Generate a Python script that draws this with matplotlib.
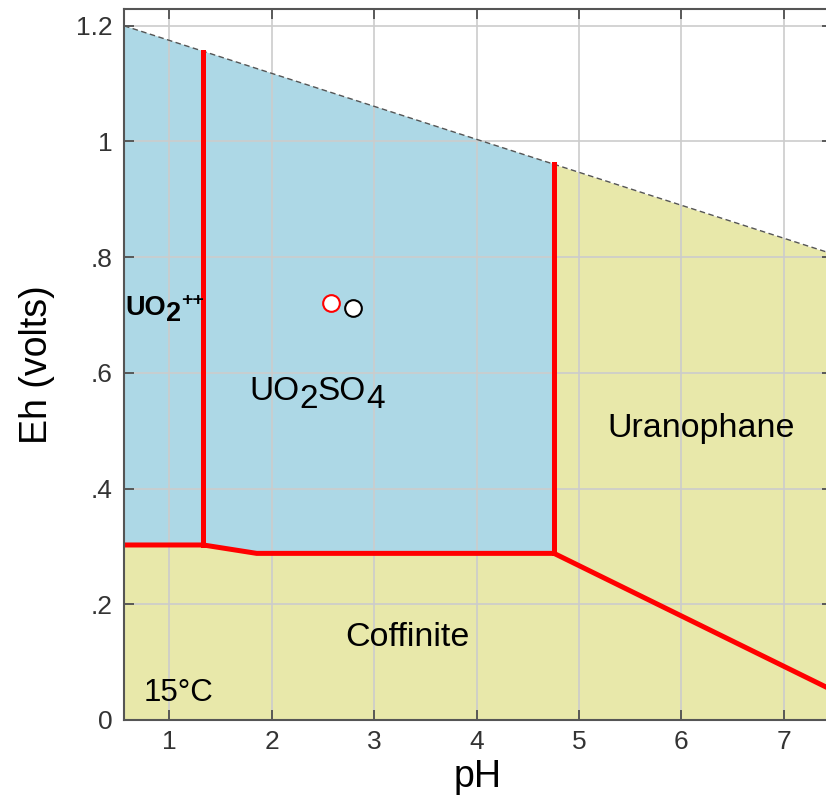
import numpy as np
import matplotlib
matplotlib.use("Agg")
import matplotlib.pyplot as plt
from matplotlib.ticker import FixedLocator, FixedFormatter

plt.rcParams['font.family'] = ['Liberation Sans', 'DejaVu Sans']

# plot window
ph_min, ph_max = 0.557, 7.47
eh_min, eh_max = 0.0, 1.229

# upper stability limit of water (dashed)
water_ph = [0.557, 4.757, 7.47]
water_eh = [1.200, 0.9606, 0.806]

# phase boundaries
b1_ph = [1.332, 1.332]            # UO2++ / UO2SO4
b1_eh = [0.3025, 1.154]
b2_ph = [4.757, 4.757]            # UO2SO4 / Uranophane
b2_eh = [0.288, 0.9606]
cof_ph = [0.557, 1.332, 1.853, 4.757, 7.47]   # top of Coffinite field
cof_eh = [0.3025, 0.3025, 0.288, 0.288, 0.052]

# sample points
samp_ph = [2.579, 2.797]
samp_eh = [0.7213, 0.7128]
samp_edge = ['red', 'black']

xticks = [1, 2, 3, 4, 5, 6, 7]
yticks = [0, 0.2, 0.4, 0.6, 0.8, 1.0, 1.2]
ylabels = ['0', '.2', '.4', '.6', '.8', '1', '1.2']

blue = '#ADD8E6'
khaki = '#E8E8AA'

fig = plt.figure(figsize=(8.26, 7.96), dpi=100)
ax = fig.add_axes([0.1501, 0.0955, 0.857, 0.8932])
ax.set_xlim(ph_min, ph_max)
ax.set_ylim(eh_min, eh_max)

# yellow under the water line, blue for the aqueous fields
xs = np.linspace(ph_min, ph_max, 200)
ax.fill_between(xs, 0, np.interp(xs, water_ph, water_eh), color=khaki, lw=0, zorder=1)
top = np.linspace(b2_ph[0], ph_min, 100)
poly_x = list(cof_ph[:4]) + list(top)
poly_y = list(cof_eh[:4]) + list(np.interp(top, water_ph, water_eh))
ax.fill(poly_x, poly_y, color=blue, lw=0, zorder=1)

ax.grid(True, color='#cccccc', lw=1.2, zorder=2)
ax.set_axisbelow(False)

ax.plot(water_ph, water_eh, ls=(0, (4, 2.5)), color='#555555', lw=1.0, zorder=3)
for px, py in [(b1_ph, b1_eh), (b2_ph, b2_eh), (cof_ph, cof_eh)]:
    ax.plot(px, py, color='red', lw=3.6, zorder=4, solid_joinstyle='miter')

for x, y, ec in zip(samp_ph, samp_eh, samp_edge):
    ax.plot(x, y, 'o', ms=12, mfc='white', mec=ec, mew=1.5, zorder=5)

ax.xaxis.set_major_locator(FixedLocator(xticks))
ax.yaxis.set_major_locator(FixedLocator(yticks))
ax.yaxis.set_major_formatter(FixedFormatter(ylabels))
ax.tick_params(direction='in', length=7, width=1.2, color='#444444',
               labelsize=19, labelcolor='#333333', top=True, right=True)
ax.tick_params(axis='y', pad=8)
ax.tick_params(axis='x', pad=7)
for s in ax.spines.values():
    s.set_color('#555555')
    s.set_linewidth(1.5)
    s.set_zorder(6)

ax.set_xlabel('pH', fontsize=27, labelpad=4)
ax.set_ylabel('Eh (volts)', fontsize=27, labelpad=15)

# field labels
ax.text(6.196, 0.490, 'Uranophane', fontsize=24.5, ha='center', va='baseline', zorder=7)
ax.text(3.325, 0.1285, 'Coffinite', fontsize=24.5, ha='center', va='baseline', zorder=7)
ax.text(0.746, 0.0334, '15°C', fontsize=22.5, ha='left', va='baseline', zorder=7)


def chem(x, y, parts, weight='normal'):
    # lay out a formula piece by piece; subscripts keep full size but drop
    prev = None
    base = 0
    for s, dy, fs in parts:
        if prev is None:
            prev = ax.text(x, y, s, fontsize=fs, fontweight=weight,
                           ha='left', va='baseline', zorder=7)
        else:
            prev = ax.annotate(s, xy=(1, 0), xycoords=prev,
                               xytext=(0, dy - base), textcoords='offset points',
                               fontsize=fs, fontweight=weight,
                               ha='left', va='bottom', zorder=7)
        base = dy


chem(1.780, 0.553, [('UO', 0, 24), ('2', -5.5, 24), ('SO', 0, 24), ('4', -5.5, 24)])
chem(0.567, 0.700, [('UO', 0, 19.5), ('2', -4.5, 19.5), ('++', 9, 14)], weight='bold')

fig.savefig('out.png', dpi=100)
